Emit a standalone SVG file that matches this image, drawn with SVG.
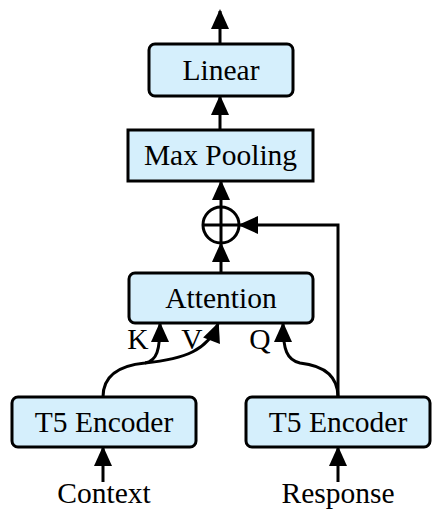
<svg xmlns="http://www.w3.org/2000/svg" width="443" height="522" viewBox="0 0 443 522">
<style>
.box{fill:#d5effc;stroke:#000;stroke-width:3}
.lbl{font-family:"Liberation Serif","Times New Roman",serif;font-size:29.5px;fill:#000;text-anchor:middle}
.ln{fill:none;stroke:#000;stroke-width:3}
</style>
<defs>
<marker id="ah" markerUnits="userSpaceOnUse" viewBox="0 0 20 18" markerWidth="20" markerHeight="18" refX="18" refY="9" orient="auto" overflow="visible">
<path d="M0,0 L20,9 L0,18 Z" fill="#000"/>
</marker>
</defs>
<rect width="443" height="522" fill="#fff"/>
<g id="connectors">
<path class="ln" d="M220,44 L220,11" marker-end="url(#ah)"/>
<path class="ln" d="M220,130 L220,97" marker-end="url(#ah)"/>
<path class="ln" d="M221,207 L221,182" marker-end="url(#ah)"/>
<path class="ln" d="M221,273 L221,244" marker-end="url(#ah)"/>
<path class="ln" d="M338,397 L338,225 L240,225" marker-end="url(#ah)"/>
<path class="ln" d="M103,397 C103,372 124,365 145,363 C157,361 160,350 160,324" marker-end="url(#ah)"/>
<path class="ln" d="M145,363 C185,359 208,350 218,324" marker-end="url(#ah)"/>
<path class="ln" d="M338,397 C338,372 318,365 300,363 C287,360 283,350 283,324" marker-end="url(#ah)"/>
<path class="ln" d="M103,482 L103,448" marker-end="url(#ah)"/>
<path class="ln" d="M338,482 L338,448" marker-end="url(#ah)"/>
</g>
<g id="linear"><rect class="box" x="149" y="44" width="144" height="52" rx="6"/><text class="lbl" x="221" y="80">Linear</text></g>
<g id="maxpool"><rect class="box" x="128" y="130" width="185" height="51"/><text class="lbl" x="220.5" y="165">Max Pooling</text></g>
<g id="add"><circle cx="221" cy="225" r="18" fill="#fff" stroke="#000" stroke-width="3"/><path class="ln" d="M203,225 L239,225 M221,207 L221,243"/></g>
<g id="attention"><rect class="box" x="129" y="273" width="184" height="50" rx="6"/><text class="lbl" x="221" y="308">Attention</text></g>
<g id="labels">
<text class="lbl" x="138" y="349">K</text>
<text class="lbl" x="192" y="349">V</text>
<text class="lbl" x="260" y="349">Q</text>
</g>
<g id="enc1"><rect class="box" x="12" y="397" width="184" height="50" rx="6"/><text class="lbl" x="104" y="432">T5 Encoder</text></g>
<g id="enc2"><rect class="box" x="246" y="397" width="184" height="50" rx="6"/><text class="lbl" x="338" y="432">T5 Encoder</text></g>
<g id="inputs">
<text class="lbl" x="104" y="503">Context</text>
<text class="lbl" x="338" y="503">Response</text>
</g>
</svg>
